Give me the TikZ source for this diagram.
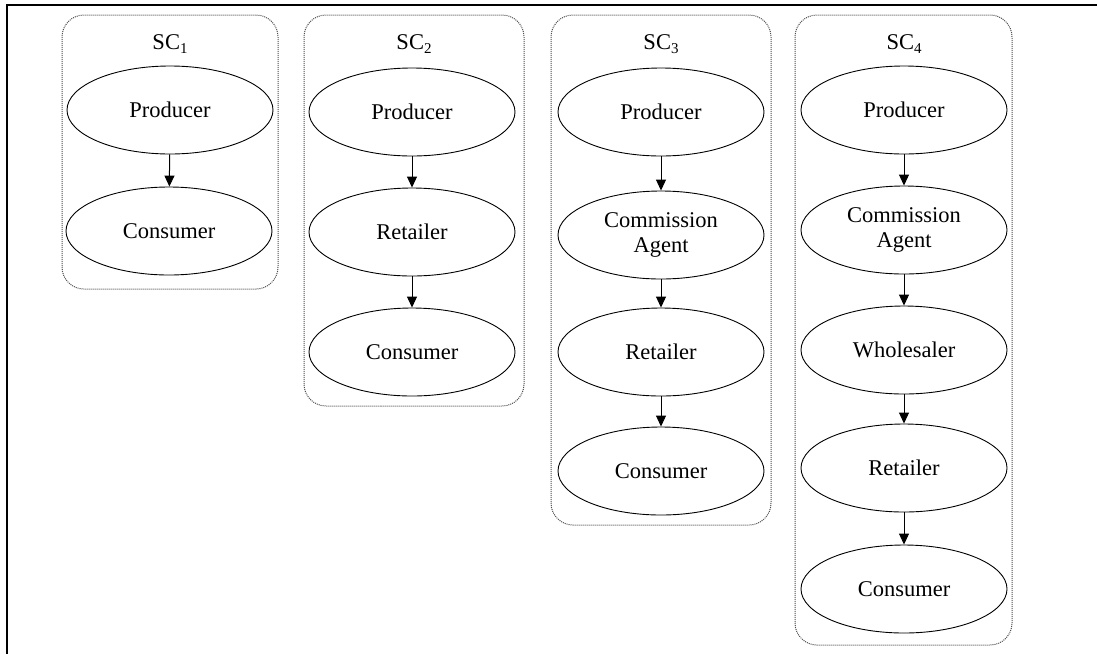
\documentclass[tikz,border=0pt]{standalone}
\usepackage{fontspec}
\setmainfont{Liberation Serif}
\usetikzlibrary{shapes.geometric,arrows.meta}
\begin{document}
\begin{tikzpicture}[x=1pt,y=-1pt,
  stage/.style={ellipse,draw,line width=0.9pt,minimum width=206pt,minimum height=88pt,inner sep=0pt,align=center,
    font=\fontsize{22.5}{25}\selectfont},
  scbox/.style={draw=black!70,densely dotted,line width=1pt,rounded corners=22pt},
  sclabel/.style={font=\fontsize{22.5}{25}\selectfont},
  flow/.style={-{Triangle[length=11pt,width=10pt]},line width=1pt}]
\useasboundingbox (0,0) rectangle (1097,654);
\draw[line width=2.6pt] (1097,5) -- (7,5) -- (7,654);
\newcommand{\sub}[1]{\raisebox{-4pt}{\fontsize{15}{15}\selectfont #1}}
% boxes
\draw[scbox] (62,15) rectangle (278,289);
\draw[scbox] (304,15) rectangle (524,406);
\draw[scbox] (551,15) rectangle (771,525);
\draw[scbox] (795,15) rectangle (1012,645);
% labels
\node[sclabel] (l1) at (170,44) {SC\sub{1}};
\node[sclabel] (l2) at (414,44) {SC\sub{2}};
\node[sclabel] (l3) at (661,44) {SC\sub{3}};
\node[sclabel] (l4) at (904,44) {SC\sub{4}};
% SC1
\node[stage] (a1) at (170,110) {Producer};
\node[stage] (a2) at (169,231) {Consumer};
\draw[flow] (a1) -- (a2);
% SC2
\node[stage] (b1) at (412,112) {Producer};
\node[stage] (b2) at (412,232) {Retailer};
\node[stage] (b3) at (412,352) {Consumer};
\draw[flow] (b1) -- (b2);
\draw[flow] (b2) -- (b3);
% SC3
\node[stage] (c1) at (661,112) {Producer};
\node[stage] (c2) at (661,235) {Commission\\Agent};
\node[stage] (c3) at (661,352) {Retailer};
\node[stage] (c4) at (661,471) {Consumer};
\draw[flow] (c1) -- (c2);
\draw[flow] (c2) -- (c3);
\draw[flow] (c3) -- (c4);
% SC4
\node[stage] (d1) at (904,110) {Producer};
\node[stage] (d2) at (904,230) {Commission\\Agent};
\node[stage] (d3) at (904,350) {Wholesaler};
\node[stage] (d4) at (904,468) {Retailer};
\node[stage] (d5) at (904,589) {Consumer};
\draw[flow] (d1) -- (d2);
\draw[flow] (d2) -- (d3);
\draw[flow] (d3) -- (d4);
\draw[flow] (d4) -- (d5);
\end{tikzpicture}
\end{document}
